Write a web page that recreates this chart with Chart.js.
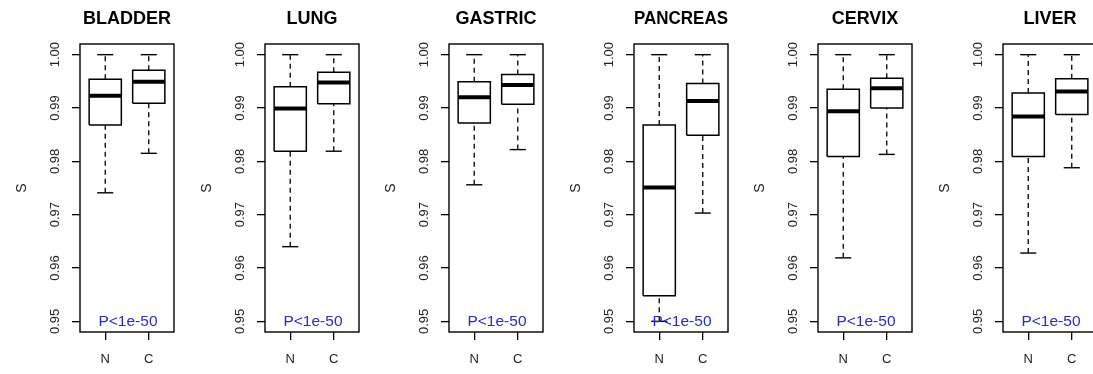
<html>
  <script src="https://cdn.jsdelivr.net/npm/chart.js"></script>
  <body style="margin:0; width:1093px; height:374px; overflow:hidden; background:#fff; position:relative">
    <div id="panels"></div>
  </body>
  <script>
    // one panel per tissue, two boxes each (normal / cancer)
    var tissues = ["BLADDER", "LUNG", "GASTRIC", "PANCREAS", "CERVIX", "LIVER"];
    var groups = ["N", "C"];
    var yTicks = [0.95, 0.96, 0.97, 0.98, 0.99, 1.00];
    var pText = "P<1e-50";

    // [N, C] for each tissue
    var minVals = [[0.9741, 0.9815], [0.9640, 0.9819], [0.9756, 0.9822], [0.9500, 0.9703], [0.9619, 0.9813], [0.9628, 0.9788]];
    var q1Vals  = [[0.9868, 0.9909], [0.9819, 0.9908], [0.9872, 0.9907], [0.9548, 0.9849], [0.9809, 0.9900], [0.9809, 0.9888]];
    var medVals = [[0.9923, 0.9949], [0.9899, 0.9948], [0.9920, 0.9943], [0.9751, 0.9913], [0.9894, 0.9937], [0.9884, 0.9931]];
    var q3Vals  = [[0.9954, 0.9971], [0.9940, 0.9967], [0.9949, 0.9963], [0.9868, 0.9946], [0.9935, 0.9956], [0.9928, 0.9955]];
    var maxVals = [[1.0, 1.0], [1.0, 1.0], [1.0, 1.0], [1.0, 1.0], [1.0, 1.0], [1.0, 1.0]];

    Chart.defaults.font.family = "'Liberation Sans', Arial, Helvetica, sans-serif";
    Chart.defaults.color = "#000";

    var boxHalf = 0.37;
    var capHalf = 0.185;

    function seg(points, width, dash) {
      return {
        data: points,
        showLine: true,
        borderColor: "#000",
        borderWidth: width,
        borderDash: dash || [],
        pointRadius: 0,
        fill: false,
        tension: 0
      };
    }

    function boxDatasets(t) {
      var sets = [];
      for (var g = 0; g < groups.length; g++) {
        var x = g + 1;
        var lo = minVals[t][g], q1 = q1Vals[t][g], md = medVals[t][g], q3 = q3Vals[t][g], hi = maxVals[t][g];
        sets.push(seg([{x: x, y: q3}, {x: x, y: hi}], 1.3, [5, 4]));
        sets.push(seg([{x: x, y: lo}, {x: x, y: q1}], 1.3, [5, 4]));
        sets.push(seg([{x: x - capHalf, y: hi}, {x: x + capHalf, y: hi}], 1.4));
        sets.push(seg([{x: x - capHalf, y: lo}, {x: x + capHalf, y: lo}], 1.4));
        sets.push(seg([{x: x - boxHalf, y: q1}, {x: x + boxHalf, y: q1}, {x: x + boxHalf, y: q3},
                       {x: x - boxHalf, y: q3}, {x: x - boxHalf, y: q1}], 1.5));
        sets.push(seg([{x: x - boxHalf, y: md}, {x: x + boxHalf, y: md}], 4));
      }
      return sets;
    }

    var framePlugin = {
      id: "frame",
      afterDatasetsDraw: function (chart) {
        var a = chart.chartArea, ctx = chart.ctx;
        ctx.save();
        ctx.strokeStyle = "#000";
        ctx.lineWidth = 1.4;
        ctx.strokeRect(a.left, a.top, a.right - a.left, a.bottom - a.top);
        ctx.fillStyle = "#2a2ac4";
        ctx.font = "15.5px 'Liberation Sans', Arial, sans-serif";
        ctx.textAlign = "center";
        ctx.textBaseline = "middle";
        ctx.fillText(pText, (a.left + a.right) / 2 + 1, chart.scales.y.getPixelForValue(0.95));
        ctx.restore();
      }
    };

    var holder = document.getElementById("panels");
    tissues.forEach(function (name, t) {
      var div = document.createElement("div");
      div.style.cssText = "position:absolute; top:0; left:" + Math.round(t * 184.6) + "px; width:185px; height:374px";
      var cv = document.createElement("canvas");
      cv.width = 185;
      cv.height = 374;
      div.appendChild(cv);
      holder.appendChild(div);

      new Chart(cv.getContext("2d"), {
        type: "scatter",
        data: { datasets: boxDatasets(t) },
        plugins: [framePlugin],
        options: {
          responsive: false,
          animation: false,
          layout: { padding: { left: 0, right: 11, top: 0, bottom: 0 } },
          plugins: {
            legend: { display: false },
            tooltip: { enabled: false },
            title: {
              display: true,
              text: name,
              fullSize: false,
              font: { size: 18, weight: "bold" },
              padding: { top: 8, bottom: 14.4 }
            }
          },
          scales: {
            x: {
              type: "linear",
              min: 0.42,
              max: 2.58,
              afterBuildTicks: function (s) { s.ticks = groups.map(function (g, i) { return {value: i + 1}; }); },
              afterFit: function (s) { s.height = 42; },
              ticks: {
                font: { size: 13 },
                padding: 12,
                color: "#222",
                callback: function (v) { return groups[v - 1]; }
              },
              grid: { drawOnChartArea: false, drawTicks: true, tickLength: 8, color: "#000", lineWidth: 1.3 },
              border: { display: false }
            },
            y: {
              type: "linear",
              min: 0.948,
              max: 1.002,
              afterBuildTicks: function (s) { s.ticks = yTicks.map(function (v) { return {value: v}; }); },
              afterFit: function (s) { s.width = 80; },
              ticks: {
                font: { size: 13 },
                color: "#222",
                minRotation: 90,
                maxRotation: 90,
                crossAlign: "center",
                padding: 3.5,
                callback: function (v) { return v.toFixed(2); }
              },
              grid: { drawOnChartArea: false, drawTicks: true, tickLength: 8, color: "#000", lineWidth: 1.3 },
              border: { display: false },
              title: { display: true, text: "S", color: "#222", font: { size: 14 }, padding: { top: 13.6, bottom: 0 } }
            }
          }
        }
      });
    });
  </script>
</html>
